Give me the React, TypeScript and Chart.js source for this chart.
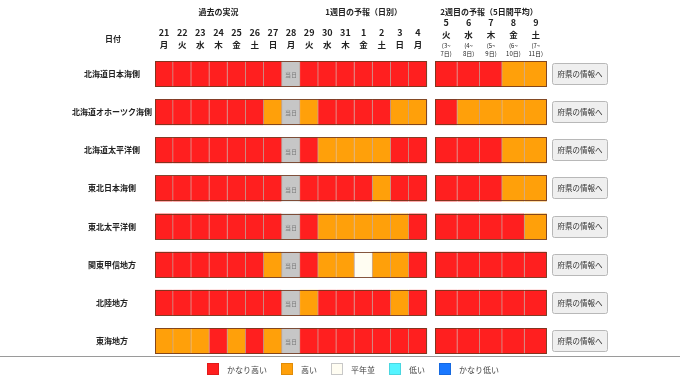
import React, { useEffect, useRef } from "react";
import { Chart, registerables } from "chart.js";

Chart.register(...registerables);

// ---------- data ----------
const regions = [
  "北海道日本海側",
  "北海道オホーツク海側",
  "北海道太平洋側",
  "東北日本海側",
  "東北太平洋側",
  "関東甲信地方",
  "北陸地方",
  "東海地方",
];

const dailyDays = ["21", "22", "23", "24", "25", "26", "27", "28", "29", "30", "31", "1", "2", "3", "4"];
const dailyWeekdays = ["月", "火", "水", "木", "金", "土", "日", "月", "火", "水", "木", "金", "土", "日", "月"];
const todayIndex = 7;

const weeklyDays = ["5", "6", "7", "8", "9"];
const weeklyWeekdays = ["火", "水", "木", "金", "土"];
const weeklyRangeStart = ["(3~", "(4~", "(5~", "(6~", "(7~"];
const weeklyRangeEnd = ["7日)", "8日)", "9日)", "10日)", "11日)"];

const groupTitles = ["過去の実況", "1週目の予報（日別）", "2週目の予報（5日間平均）"];

// level codes: V=かなり高い, H=高い, N=平年並, L=低い, X=かなり低い, T=当日
const levelKeys = ["V", "H", "N", "L", "X"];
const levelNames = ["かなり高い", "高い", "平年並", "低い", "かなり低い"];
const levelColors = ["#ff1f1f", "#ffa00a", "#fffdf2", "#55f4ff", "#1a78ff"];

const dailyLevels = [
  ["V", "V", "V", "V", "V", "V", "V", "T", "V", "V", "V", "V", "V", "V", "V"],
  ["V", "V", "V", "V", "V", "V", "H", "T", "H", "V", "V", "V", "V", "H", "H"],
  ["V", "V", "V", "V", "V", "V", "V", "T", "V", "H", "H", "H", "H", "V", "V"],
  ["V", "V", "V", "V", "V", "V", "V", "T", "V", "V", "V", "V", "H", "V", "V"],
  ["V", "V", "V", "V", "V", "V", "V", "T", "V", "H", "H", "H", "H", "H", "V"],
  ["V", "V", "V", "V", "V", "V", "H", "T", "V", "H", "H", "N", "H", "H", "V"],
  ["V", "V", "V", "V", "V", "V", "V", "T", "H", "V", "V", "V", "V", "H", "V"],
  ["H", "H", "H", "V", "H", "V", "H", "T", "V", "V", "V", "V", "V", "V", "V"],
];

const weeklyLevels = [
  ["V", "V", "V", "H", "H"],
  ["V", "H", "H", "H", "H"],
  ["V", "V", "V", "H", "H"],
  ["V", "V", "V", "H", "H"],
  ["V", "V", "V", "V", "H"],
  ["V", "V", "V", "V", "V"],
  ["V", "V", "V", "V", "V"],
  ["V", "V", "V", "V", "V"],
];

const buttonLabel = "府県の情報へ";
const todayLabel = "当日";
const dateHeader = "日付";

// ---------- layout in scale units ----------
const DAY_W = 1;
const GAP = 0.44;
const WEEK_W = 1.235;
const WEEK_START = dailyDays.length * DAY_W + GAP;
const X_MAX = WEEK_START + weeklyDays.length * WEEK_W;

const FONT = "'Noto Sans CJK JP', 'Noto Sans', sans-serif";

function dailyRange(i: number): [number, number] {
  return [i * DAY_W, (i + 1) * DAY_W];
}
function weeklyRange(j: number): [number, number] {
  return [WEEK_START + j * WEEK_W, WEEK_START + (j + 1) * WEEK_W];
}

function buildDatasets() {
  const sets = levelKeys.map((k, li) => ({
    label: levelNames[li],
    data: [] as { x: [number, number]; y: string }[],
    backgroundColor: levelColors[li],
  }));
  const today = { label: todayLabel, data: [] as { x: [number, number]; y: string }[], backgroundColor: "#c6c6c6" };
  regions.forEach((r, ri) => {
    dailyLevels[ri].forEach((code, i) => {
      if (code === "T") today.data.push({ x: dailyRange(i), y: r });
      else sets[levelKeys.indexOf(code)].data.push({ x: dailyRange(i), y: r });
    });
    weeklyLevels[ri].forEach((code, j) => {
      sets[levelKeys.indexOf(code)].data.push({ x: weeklyRange(j), y: r });
    });
  });
  return [...sets, today].map((d) => ({
    ...d,
    borderColor: "rgba(110,50,30,0.45)",
    borderWidth: { left: 0, right: 1, top: 0, bottom: 0 },
    borderSkipped: false as const,
    barThickness: 26,
    grouped: false,
  }));
}

const decorPlugin = {
  id: "decor",
  afterDatasetsDraw(chart: any) {
    const ctx: CanvasRenderingContext2D = chart.ctx;
    const xs = chart.scales.x;
    const ys = chart.scales.y;
    const half = 13;
    ctx.save();

    // block outlines + today label + buttons + row labels
    regions.forEach((r, ri) => {
      const cy = ys.getPixelForValue(ri);
      ctx.strokeStyle = "rgba(110,55,30,0.85)";
      ctx.lineWidth = 1;
      const x0 = Math.round(xs.getPixelForValue(0)) + 0.5;
      const x1 = Math.round(xs.getPixelForValue(dailyDays.length * DAY_W)) - 0.5;
      ctx.strokeRect(x0, Math.round(cy - half) + 0.5, x1 - x0, half * 2 - 1);
      const w0 = Math.round(xs.getPixelForValue(WEEK_START)) + 0.5;
      const w1 = Math.round(xs.getPixelForValue(X_MAX)) - 0.5;
      ctx.strokeRect(w0, Math.round(cy - half) + 0.5, w1 - w0, half * 2 - 1);

      // today label
      const tc = xs.getPixelForValue((todayIndex + 0.5) * DAY_W);
      ctx.fillStyle = "#7a7a7a";
      ctx.font = `6px ${FONT}`;
      ctx.textAlign = "center";
      ctx.textBaseline = "middle";
      ctx.fillText(todayLabel, tc, cy + 1);

      // row label
      ctx.fillStyle = "#222";
      ctx.font = `bold 8px ${FONT}`;
      ctx.fillText(regions[ri], 112, cy);

      // button
      const bx = Math.round(xs.getPixelForValue(X_MAX)) + 5.5;
      const bw = 55;
      const by = Math.round(cy - 11) + 0.5;
      ctx.fillStyle = "#efefef";
      ctx.strokeStyle = "#b8b8b8";
      ctx.beginPath();
      (ctx as any).roundRect ? (ctx as any).roundRect(bx, by, bw, 21, 2) : ctx.rect(bx, by, bw, 21);
      ctx.fill();
      ctx.stroke();
      ctx.fillStyle = "#333";
      ctx.font = `7.5px ${FONT}`;
      ctx.fillText(buttonLabel, bx + bw / 2, cy);
    });

    // headers
    ctx.fillStyle = "#222";
    ctx.textAlign = "center";
    ctx.textBaseline = "middle";
    ctx.font = `bold 8px ${FONT}`;
    ctx.fillText(dateHeader, 113, 39);
    ctx.fillText(groupTitles[0], xs.getPixelForValue(3.5 * DAY_W), 12);
    ctx.fillText(groupTitles[1], xs.getPixelForValue(11.5 * DAY_W), 12);
    ctx.fillText(groupTitles[2], xs.getPixelForValue(WEEK_START + 2.5 * WEEK_W) - 2, 12);

    dailyDays.forEach((d, i) => {
      const cx = xs.getPixelForValue((i + 0.5) * DAY_W);
      ctx.font = `bold 9px ${FONT}`;
      ctx.fillText(d, cx, 33);
      ctx.font = `bold 8.5px ${FONT}`;
      ctx.fillText(dailyWeekdays[i], cx, 45);
    });
    weeklyDays.forEach((d, j) => {
      const cx = xs.getPixelForValue(WEEK_START + (j + 0.5) * WEEK_W);
      ctx.font = `bold 9px ${FONT}`;
      ctx.fillText(d, cx, 23);
      ctx.font = `bold 8.5px ${FONT}`;
      ctx.fillText(weeklyWeekdays[j], cx, 35);
      ctx.font = `6px ${FONT}`;
      ctx.fillText(weeklyRangeStart[j], cx, 45.5);
      ctx.fillText(weeklyRangeEnd[j], cx, 54);
    });

    // separator line
    ctx.strokeStyle = "#9a9a9a";
    ctx.lineWidth = 1;
    ctx.beginPath();
    ctx.moveTo(0, 356.5);
    ctx.lineTo(chart.width, 356.5);
    ctx.stroke();

    // legend
    ctx.font = `8px ${FONT}`;
    const boxW = 12;
    const gapBT = 8;
    const gapItem = 14;
    const widths = levelNames.map((n) => ctx.measureText(n).width);
    const total = widths.reduce((a, b) => a + b, 0) + levelNames.length * (boxW + gapBT) + (levelNames.length - 1) * gapItem;
    let lx = Math.round(352.5 - total / 2);
    const ly = 363;
    levelNames.forEach((n, li) => {
      ctx.fillStyle = levelColors[li];
      ctx.fillRect(lx, ly, boxW, boxW);
      ctx.strokeStyle = li === 2 ? "#c8c8c8" : "rgba(0,0,0,0.12)";
      ctx.strokeRect(lx + 0.5, ly + 0.5, boxW - 1, boxW - 1);
      ctx.fillStyle = "#444";
      ctx.textAlign = "left";
      ctx.fillText(n, lx + boxW + gapBT, ly + boxW / 2 + 0.5);
      lx += boxW + gapBT + widths[li] + gapItem;
    });

    ctx.restore();
  },
};

export default function App() {
  const ref = useRef<HTMLCanvasElement | null>(null);
  useEffect(() => {
    document.body.style.margin = "0";
    if (!ref.current) return;
    const chart = new Chart(ref.current, {
      type: "bar",
      data: { labels: regions, datasets: buildDatasets() as any },
      options: {
        animation: false,
        responsive: false,
        indexAxis: "y",
        layout: { padding: { left: 155, right: 133, top: 55, bottom: 23 } },
        scales: {
          x: { type: "linear", min: 0, max: X_MAX, display: false },
          y: { type: "category", display: false, offset: true },
        },
        plugins: { legend: { display: false }, tooltip: { enabled: false } },
      },
      plugins: [decorPlugin],
    });
    return () => chart.destroy();
  }, []);
  return (
    <div style={{ width: 680, height: 383, background: "#fff" }}>
      <canvas ref={ref} width={680} height={383} style={{ display: "block" }} />
    </div>
  );
}
